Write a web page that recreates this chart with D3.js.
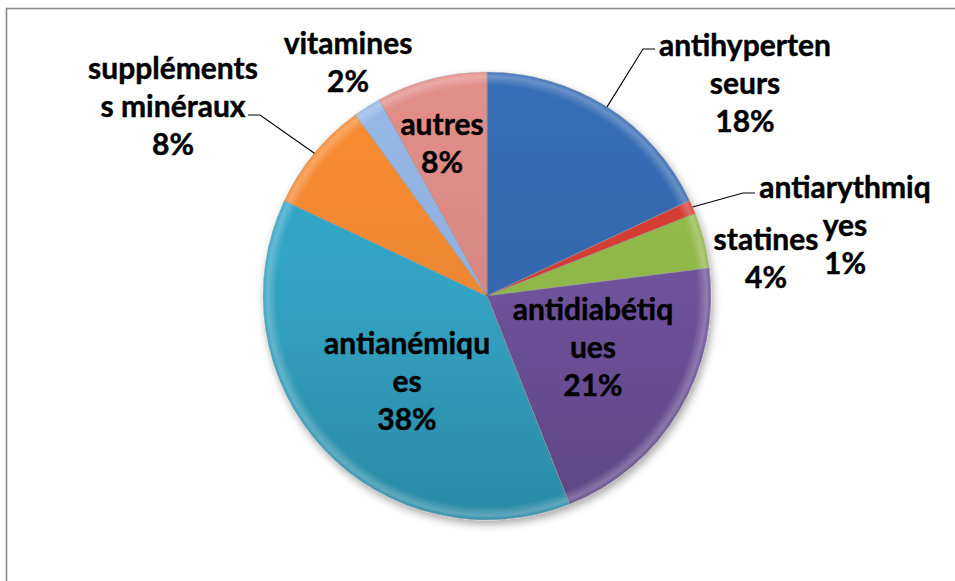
<!DOCTYPE html>
<html>
<head>
<meta charset="utf-8">
<script src="https://cdn.jsdelivr.net/npm/d3@7"></script>
<style>
html,body{margin:0;padding:0;background:#fff;}
svg{display:block;}
text{font-family:Lato,"Liberation Sans",sans-serif;font-weight:700;fill:#000;stroke:#000;stroke-width:0.45px;}
</style>
</head>
<body>
<svg id="chart" width="955" height="581"></svg>
<script>
// ---- data ----
const categories = ["antihypertenseurs","antiarythmiques","statines","antidiabétiques","antianémiques","suppléments minéraux","vitamines","autres"];
const values = [18, 1, 4, 21, 38, 8, 2, 8];
const labelLines = [
  ["antihyperten","seurs"],
  ["antiarythmiq","yes"],
  ["statines"],
  ["antidiabétiq","ues"],
  ["antianémiqu","es"],
  ["suppléments","s minéraux"],
  ["vitamines"],
  ["autres"]
];
const colors = ["#3468ad","#d23b35","#8fb648","#6d529b","#32a2c2","#ee8630","#8fafdc","#d78883"];

// ---- layout (label block centres, relative to pie centre) ----
const labelPos = [
  {x:258, y:-213, leader:[[156,-247],[168,-247]]},
  {x:358, y:-71, leader:[[256,-103],[268,-103]]},
  {x:279, y:-38},
  {x:106, y:51},
  {x:-80, y:85},
  {x:-314, y:-190, leader:[[-227,-181],[-239,-181]]},
  {x:-139, y:-234},
  {x:-45, y:-153}
];
const lineGap = 38;
const fontSize = 30;

const W = 955, H = 581;
const cx = 487, cy = 296, R = 224;
const svg = d3.select("#chart");

// frame
svg.append("rect").attr("x",6.5).attr("y",8.5).attr("width",W+20).attr("height",H+20)
  .attr("fill","#fff").attr("stroke","#8a8a8a").attr("stroke-width",1.6);

const defs = svg.append("defs");
const f = defs.append("filter").attr("id","shadow").attr("x","-20%").attr("y","-20%").attr("width","140%").attr("height","140%");
f.append("feGaussianBlur").attr("in","SourceAlpha").attr("stdDeviation",4);
f.append("feOffset").attr("dx",2).attr("dy",4).attr("result","ob");
f.append("feComponentTransfer").append("feFuncA").attr("type","linear").attr("slope",0.35);
const fm = f.append("feMerge"); fm.append("feMergeNode"); fm.append("feMergeNode").attr("in","SourceGraphic");

colors.forEach((c,i)=>{
  const gr = defs.append("linearGradient").attr("id","g"+i).attr("gradientUnits","userSpaceOnUse")
    .attr("x1",0).attr("y1",-R).attr("x2",0).attr("y2",R);
  const base = d3.color(c);
  gr.append("stop").attr("offset","0%").attr("stop-color",base.brighter(0.15));
  gr.append("stop").attr("offset","50%").attr("stop-color",base);
  gr.append("stop").attr("offset","100%").attr("stop-color",base.darker(0.45));
});
const rg = defs.append("radialGradient").attr("id","rim").attr("gradientUnits","userSpaceOnUse")
  .attr("cx",0).attr("cy",0).attr("r",R);
rg.append("stop").attr("offset","0.94").attr("stop-color","#fff").attr("stop-opacity",0);
rg.append("stop").attr("offset","0.98").attr("stop-color","#fff").attr("stop-opacity",0.25);
rg.append("stop").attr("offset","1").attr("stop-color","#fff").attr("stop-opacity",0.05);

const pie = d3.pie().sort(null).value(d=>d)(values);
const arc = d3.arc().innerRadius(0).outerRadius(R);

const g = svg.append("g").attr("transform",`translate(${cx},${cy})`);
const slices = g.append("g").attr("filter","url(#shadow)");
slices.selectAll("path.s").data(pie).join("path").attr("class","s")
  .attr("d",arc).attr("fill",(d,i)=>`url(#g${i})`)
  .attr("stroke","rgba(255,255,255,0.35)").attr("stroke-width",1);
g.selectAll("path.r").data(pie).join("path").attr("class","r")
  .attr("d",arc).attr("fill","url(#rim)").attr("stroke","rgba(0,0,0,0.2)").attr("stroke-width",0.7);

const edge = d => { const a=(d.startAngle+d.endAngle)/2; return [R*Math.sin(a), -R*Math.cos(a)]; };
pie.forEach((d,i)=>{
  const lp = labelPos[i];
  if(!lp.leader) return;
  const pts = [edge(d), ...lp.leader];
  g.append("path").attr("d",d3.line()(pts)).attr("fill","none").attr("stroke","#000").attr("stroke-width",1.1);
});

pie.forEach((d,i)=>{
  const lp = labelPos[i];
  const lines = [...labelLines[i], values[i]+"%"];
  const n = lines.length;
  const t = g.append("text").attr("text-anchor","middle").attr("font-size",fontSize);
  lines.forEach((s,k)=>{
    t.append("tspan").attr("x",lp.x).attr("y",lp.y + (k-(n-1)/2)*lineGap).attr("dy","0.35em").text(s);
  });
});
</script>
</body>
</html>
